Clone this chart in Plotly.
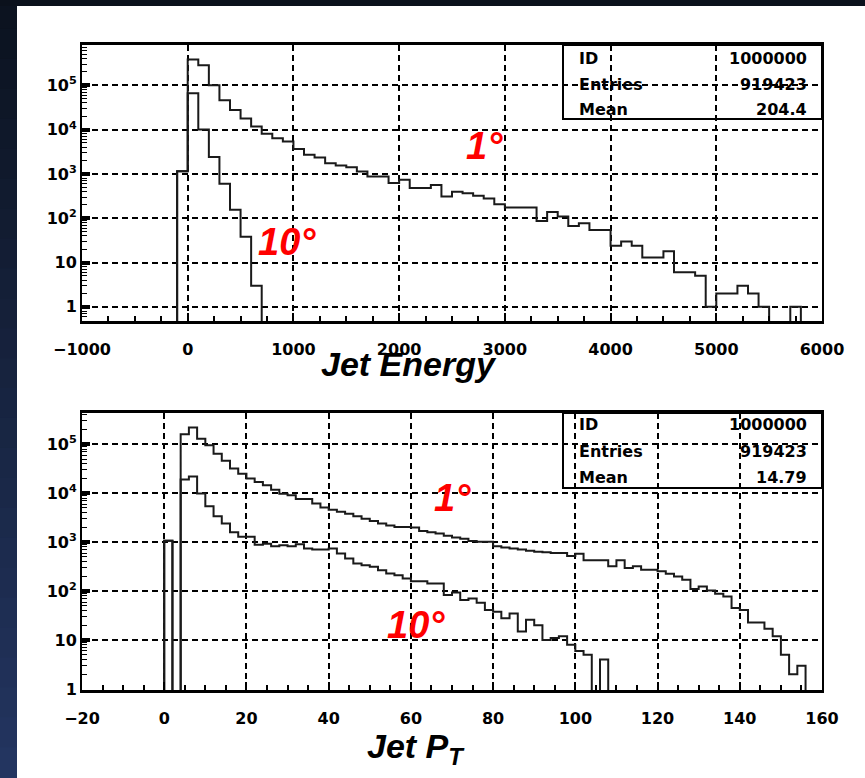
import numpy as np
import plotly.graph_objects as go

# ---------------- data ----------------
energy_bin_width = 100
energy_first_edge = -100
energy_1deg_counts = [
    1150, 384000, 282000, 100000, 46000, 27900, 17800, 11700, 8100, 6400, 5400,
    3640, 2700, 2350, 1740, 1540, 1410, 1130, 870, 870, 625,
    740, 480, 480, 560, 310, 397, 364, 322, 280, 208,
    174, 174, 174, 87, 139, 109, 67, 77, 54, 54,
    24, 30, 24, 13, 13, 18, 6, 6, 5, 1,
    2, 2, 3, 2, 1, 0, 0, 1,
]
energy_10deg_counts = [1150, 66000, 10000, 2400, 600, 155, 38, 3]

pt_bin_width = 2
pt_first_edge = 0
pt_1deg_counts = [
    1070, 0, 160000, 220000, 130000, 96000, 64000, 46000, 32000, 25000,
    20000, 17000, 14500, 11800, 9800, 9100, 7600, 7600, 6200, 5100,
    4600, 4200, 3800, 3400, 3000, 2700, 2400, 2200, 2050, 2050,
    2000, 1700, 1600, 1500, 1350, 1250, 1180, 1060, 1020, 1020,
    830, 780, 740, 710, 665, 635, 620, 600, 600, 520,
    580, 427, 427, 427, 322, 427, 297, 322, 274, 274,
    254, 227, 200, 171, 110, 125, 103, 88, 78, 45,
    41, 23, 23, 17, 12, 5, 2, 3,
]
pt_10deg_counts = [
    1070, 0, 19000, 22000, 9900, 5400, 3400, 2400, 1600, 1300,
    1300, 890, 930, 830, 870, 830, 910, 740, 710, 710,
    740, 590, 465, 365, 340, 315, 268, 230, 212, 182,
    160, 160, 143, 143, 83, 94, 66, 71, 58, 41,
    38, 28, 35, 15, 26, 20, 10, 11, 12, 8,
    6, 5, 0, 4,
]

stats_labels = ["ID", "Entries", "Mean"]
stats_energy = ["1000000", "919423", "204.4"]
stats_pt = ["1000000", "919423", "14.79"]

energy_ticks = [-1000, 0, 1000, 2000, 3000, 4000, 5000, 6000]
energy_tick_text = ["\u22121000", "0", "1000", "2000", "3000", "4000", "5000", "6000"]
pt_ticks = [-20, 0, 20, 40, 60, 80, 100, 120, 140, 160]
pt_tick_text = ["\u221220", "0", "20", "40", "60", "80", "100", "120", "140", "160"]
log_ticks = [1, 10, 100, 1000, 10000, 100000]
log_tick_text = ["1", "10", "10<sup>2</sup>", "10<sup>3</sup>", "10<sup>4</sup>", "10<sup>5</sup>"]

# ---------------- geometry helpers ----------------
W, H = 865, 778
ML, MR, MT, MB = 82, 43, 45, 88
PW, PH = W - ML - MR, H - MT - MB


def px(xpix):
    return (xpix - ML) / PW


def py(ypix):
    return (H - MB - ypix) / PH


def step_xy(first_edge, width, counts, floor):
    n = len(counts)
    edges = first_edge + width * np.arange(n + 1)
    xs = [edges[0]] + list(edges[:-1]) + [edges[-1]]
    ys = [floor] + [c if c > 0 else floor for c in counts] + [floor]
    return xs, ys


line_style = dict(color="#1a1a1a", width=2, shape="hv")
fig = go.Figure()

for counts, first, width, ax in [
    (energy_1deg_counts, energy_first_edge, energy_bin_width, ("x", "y")),
    (energy_10deg_counts, energy_first_edge, energy_bin_width, ("x", "y")),
    (pt_1deg_counts, pt_first_edge, pt_bin_width, ("x2", "y2")),
    (pt_10deg_counts, pt_first_edge, pt_bin_width, ("x2", "y2")),
]:
    xs, ys = step_xy(first, width, counts, 0.05)
    fig.add_trace(go.Scatter(x=xs, y=ys, mode="lines", line=line_style,
                             xaxis=ax[0], yaxis=ax[1], showlegend=False,
                             hoverinfo="skip"))

tick_font = dict(family="DejaVu Sans", size=16, color="black", weight="bold")
grid = dict(showgrid=True, gridcolor="black", gridwidth=1.5, griddash="6px,4px")
minor_log = [m * 10 ** d for d in range(-1, 6) for m in range(2, 10)]

xcommon = dict(showline=True, linecolor="black", linewidth=2.5, mirror=True,
               ticks="inside", ticklen=8, tickwidth=2, tickcolor="black",
               zeroline=False, tickfont=tick_font, ticklabelstandoff=12, **grid)
ycommon = dict(type="log", showline=True, linecolor="black", linewidth=2, mirror=True,
               ticks="inside", ticklen=8, tickwidth=4, tickcolor="black",
               zeroline=False, tickfont=tick_font, tickvals=log_ticks,
               ticktext=log_tick_text,
               minor=dict(tickvals=minor_log, ticks="inside", ticklen=5,
                          tickwidth=1.2, tickcolor="black", showgrid=False),
               **grid)

top_lo = py(321)
bot_hi = py(413)

fig.update_layout(
    width=W, height=H, autosize=False,
    margin=dict(l=ML, r=MR, t=MT, b=MB, pad=0),
    paper_bgcolor="white", plot_bgcolor="white",
    xaxis=dict(domain=[0, 1], anchor="y", range=[-1000, 6000],
               tickvals=energy_ticks, ticktext=energy_tick_text,
               minor=dict(dtick=250, tick0=0, ticks="inside", ticklen=5,
                          tickwidth=1.5, tickcolor="black", showgrid=False),
               **xcommon),
    yaxis=dict(domain=[top_lo, 1], anchor="x", range=[-0.32, 5.91], **ycommon),
    xaxis2=dict(domain=[0, 1], anchor="y2", range=[-20, 160],
                tickvals=pt_ticks, ticktext=pt_tick_text,
                minor=dict(dtick=5, tick0=0, ticks="inside", ticklen=5,
                           tickwidth=1.5, tickcolor="black", showgrid=False),
                **xcommon),
    yaxis2=dict(domain=[0, bot_hi], anchor="x2", range=[-0.02, 5.64], **ycommon),
)

# ---------------- background frame (dark slide edges) ----------------
shapes = []
shapes.append(dict(type="rect", xref="paper", yref="paper", layer="below",
                   x0=px(-2), x1=px(W + 2), y0=py(6), y1=py(-2),
                   fillcolor="#0b111c", line=dict(width=0)))
nseg = 26
seg_h = H / nseg
c0 = np.array([12, 19, 32])
c1 = np.array([35, 53, 96])
for i in range(nseg):
    t = i / (nseg - 1)
    col = (c0 + (c1 - c0) * t).astype(int)
    y0p = i * seg_h + (6 if i == 0 else -1)
    y1p = (i + 1) * seg_h + 2
    shapes.append(dict(type="rect", xref="paper", yref="paper", layer="below",
                       x0=px(-2), x1=px(17), y0=py(y1p), y1=py(y0p),
                       fillcolor="rgb(%d,%d,%d)" % tuple(col),
                       line=dict(width=0)))

# stats boxes
for (ytop, ybot) in [(45, 119), (413, 488)]:
    shapes.append(dict(type="rect", xref="paper", yref="paper",
                       x0=px(563), x1=px(822), y0=py(ybot), y1=py(ytop),
                       line=dict(color="black", width=2), fillcolor="rgba(0,0,0,0)"))
fig.update_layout(shapes=shapes)

# ---------------- text ----------------
ann = []
stat_font = dict(family="DejaVu Sans", size=16, color="black", weight="bold")
for vals, rows in [(stats_energy, [58, 84, 110]), (stats_pt, [425, 452, 478])]:
    for lab, val, yy in zip(stats_labels, vals, rows):
        ann.append(dict(text=lab, xref="paper", yref="paper", x=px(577), y=py(yy),
                        xanchor="left", yanchor="middle", showarrow=False, font=stat_font))
        ann.append(dict(text=val, xref="paper", yref="paper", x=px(809), y=py(yy),
                        xanchor="right", yanchor="middle", showarrow=False, font=stat_font))

red_font = dict(family="Liberation Sans", size=38, color="#ff0000")
for txt, cx, cy in [("1°", 484, 146), ("10°", 287, 242), ("1°", 452, 498), ("10°", 416, 625)]:
    ann.append(dict(text="<b><i>%s</i></b>" % txt, xref="paper", yref="paper",
                    x=px(cx), y=py(cy), xanchor="center", yanchor="middle",
                    showarrow=False, font=red_font))

title_font = dict(family="Liberation Sans", size=34, color="black")
ann.append(dict(text="<b><i>Jet Energy</i></b>", xref="paper", yref="paper",
                x=px(409), y=py(364), xanchor="center", yanchor="middle",
                showarrow=False, font=title_font))
ann.append(dict(text="<b><i>Jet P<sub>T</sub></i></b>", xref="paper", yref="paper",
                x=px(416), y=py(748), xanchor="center", yanchor="middle",
                showarrow=False, font=title_font))
fig.update_layout(annotations=ann)

fig.write_html("out.html", config={"displayModeBar": False},
               post_script="document.body.style.margin='0';document.body.style.overflow='hidden';")
